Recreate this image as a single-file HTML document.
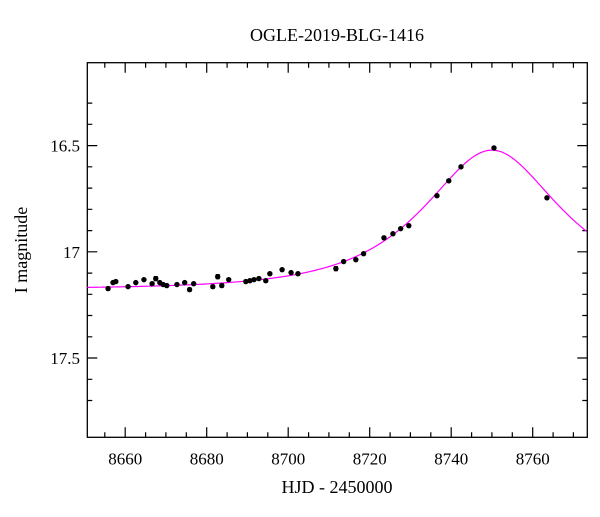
<!DOCTYPE html>
<html><head><meta charset="utf-8"><style>
body{margin:0;background:#fff}
svg text{font-family:"Liberation Serif","DejaVu Serif",serif;fill:#000}
</style></head><body>
<svg id="chart" width="600" height="512" xmlns="http://www.w3.org/2000/svg"></svg>
<script>
const obsT=[8655.8,8657.0,8657.7,8660.7,8662.6,8664.6,8666.6,8667.5,8668.5,8669.3,8670.2,8672.7,8674.6,8675.8,8676.8,8681.5,8682.7,8683.7,8685.4,8689.6,8690.6,8691.6,8692.8,8694.5,8695.5,8698.5,8700.7,8702.4,8711.7,8713.6,8716.6,8718.5,8723.5,8725.7,8727.6,8729.6,8736.5,8739.4,8742.4,8750.5,8763.5];
const obsMag=[17.173,17.145,17.140,17.164,17.145,17.131,17.150,17.126,17.145,17.154,17.159,17.154,17.145,17.178,17.150,17.164,17.117,17.159,17.131,17.140,17.136,17.131,17.126,17.136,17.103,17.084,17.098,17.103,17.079,17.046,17.037,17.009,16.934,16.915,16.891,16.877,16.736,16.666,16.600,16.511,16.746];
const obsErr=[0.008,0.006,0.006,0.006,0.005,0.005,0.006,0.01,0.006,0.006,0.006,0.006,0.006,0.008,0.006,0.008,0.01,0.008,0.006,0.006,0.005,0.005,0.005,0.005,0.005,0.005,0.005,0.005,0.01,0.006,0.005,0.005,0.005,0.005,0.005,0.005,0.005,0.005,0.005,0.005,0.005];
const xTicks=[8660,8680,8700,8720,8740,8760];
const yTicks=[16.5,17,17.5];
const model={t0:8750,u0:0.625,tE:26,fs:1,mbase:17.175};

const svg=document.getElementById('chart');
const NS='http://www.w3.org/2000/svg';
const L=87.3,R=587.3,T=62.7,B=437.3;
const xMin=8650.7,xMax=8773.4,yMin=16.11,yMax=17.873;
const X=t=>L+(t-xMin)/(xMax-xMin)*(R-L);
const Y=m=>T+(m-yMin)/(yMax-yMin)*(B-T);
function mk(tag,attrs,parent){const e=document.createElementNS(NS,tag);for(const k in attrs)e.setAttribute(k,attrs[k]);(parent||svg).appendChild(e);return e;}

const axes=mk('g',{});


let td='';
for(let t=8655;t<=8770;t+=5){
  const major=t%20===0;const len=major?10:5;const x=X(t).toFixed(1);
  td+='M'+x+','+B+'V'+(B-len)+'M'+x+','+T+'V'+(T+len);
}
for(let i=3;i<=17;i++){
  const m=16+i*0.1;const major=(i%5===0);const len=major?10:5;const y=Y(m).toFixed(1);
  td+='M'+L+','+y+'H'+(L+len)+'M'+R+','+y+'H'+(R-len);
}
const tp=mk('path',{d:td,stroke:'#000','stroke-width':1.2,fill:'none'},axes);


xTicks.forEach(t=>{const e=mk('text',{x:X(t),y:B+27,'text-anchor':'middle','font-size':17},axes);e.textContent=t;

});
yTicks.forEach(m=>{const e=mk('text',{x:80,y:Y(m)+6,'text-anchor':'end','font-size':17},axes);e.textContent=m;

});
mk('rect',{x:L,y:T,width:R-L,height:B-T,fill:'none',stroke:'#000','stroke-width':1.3},axes);

function magAt(t){const tau=(t-model.t0)/model.tE;const u=Math.sqrt(model.u0*model.u0+tau*tau);
const A=(u*u+2)/(u*Math.sqrt(u*u+4));return model.mbase-2.5*Math.log10(1+model.fs*(A-1));}
let d='';for(let t=xMin;t<=xMax;t+=0.25){d+=(d?'L':'M')+X(t).toFixed(2)+','+Y(magAt(t)).toFixed(2);}
const curve=mk('path',{d:d,fill:'none',stroke:'#ff00ff','stroke-width':1.2});



const pts=mk('g',{});


obsT.forEach((t,i)=>{
  const x=X(t),y=Y(obsMag[i]);
  const g=mk('g',{},pts);
  
  
  const y1=Y(obsMag[i]-obsErr[i]),y2=Y(obsMag[i]+obsErr[i]);
  mk('path',{d:'M'+x+','+y1+'V'+y2+'M'+(x-2)+','+y1+'h4M'+(x-2)+','+y2+'h4',stroke:'#000','stroke-width':1,fill:'none'},g);
  mk('circle',{cx:x,cy:y,r:2.7,fill:'#000'},g);
});

const title=mk('text',{x:337,y:41,'text-anchor':'middle','font-size':18});
title.textContent='OGLE-2019-BLG-1416';


const xl=mk('text',{x:337,y:493,'text-anchor':'middle','font-size':18});
xl.textContent='HJD - 2450000';


const yl=mk('text',{x:0,y:0,'text-anchor':'middle','font-size':18,transform:'translate(27,250) rotate(-90)'});
yl.textContent='I magnitude';


</script>
</body></html>
